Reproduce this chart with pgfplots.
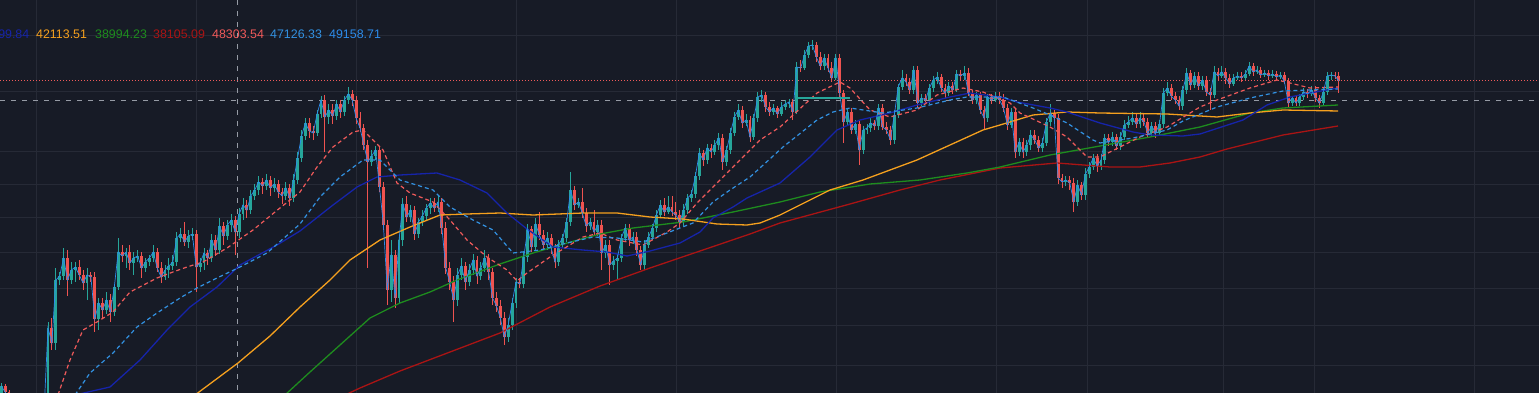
\documentclass[border=0pt]{standalone}
\usepackage{pgfplots}
\usepackage{pgfplotstable}
\usepackage{fontspec}
\pgfplotsset{compat=1.18}
\newfontfamily\lf{Liberation Sans}
\definecolor{bg}{RGB}{23,27,38}
\definecolor{gridc}{RGB}{38,42,54}
\definecolor{up}{RGB}{38,166,154}
\definecolor{dn}{RGB}{239,83,80}
\definecolor{mablue}{RGB}{22,36,170}
\definecolor{maorange}{RGB}{245,160,30}
\definecolor{magreen}{RGB}{30,140,30}
\definecolor{madred}{RGB}{170,20,20}
\definecolor{malred}{RGB}{240,90,90}
\definecolor{malblue}{RGB}{50,145,225}
\definecolor{closeblue}{RGB}{45,140,235}
\definecolor{cross}{RGB}{150,155,165}
\pgfplotstableread{
o h l c
396 383 398 386
386 384 394 392
392 390 403 400
400 397 408 404
404 401 414 410
410 398 412 402
402 400 411 408
408 405 418 415
415 412 424 420
420 408 422 412
412 409 421 418
418 406 420 410
410 322 412 328
328 318 350 343
343 268 350 280
280 272 285 276
276 248 280 258
258 250 296 280
280 262 284 270
270 262 282 267
267 260 280 275
275 270 290 283
283 268 300 275
275 272 282 277
277 272 332 319
319 298 330 303
303 298 318 310
310 292 314 300
300 294 322 312
312 284 316 287
287 238 290 252
252 245 262 256
256 248 268 252
252 245 270 263
263 252 275 258
258 250 262 256
256 252 278 268
268 258 272 262
262 255 266 258
258 245 262 252
252 248 272 268
268 262 283 277
277 265 280 270
270 258 278 266
266 255 270 262
262 232 266 238
238 228 242 234
234 222 246 242
242 230 248 236
236 228 240 234
234 230 292 267
267 258 272 263
263 248 270 253
253 250 265 258
258 234 262 240
240 235 256 250
250 218 254 226
226 222 245 236
236 220 240 225
225 214 232 220
220 216 255 232
232 208 238 214
214 198 220 205
205 200 218 210
210 190 214 196
196 184 200 190
190 176 195 182
182 178 194 186
186 174 190 180
180 176 196 188
188 178 192 184
184 180 198 192
192 188 204 196
196 182 200 188
188 184 206 198
198 174 202 180
180 152 184 158
158 130 162 136
136 118 140 123
123 118 138 131
131 126 140 133
133 110 136 114
114 96 118 100
100 95 152 117
117 104 124 110
110 104 124 116
116 100 120 104
104 100 118 112
112 96 116 100
100 87 104 94
94 90 106 100
100 96 124 118
118 112 132 128
128 124 150 145
145 140 268 162
162 150 166 156
156 146 160 150
150 146 192 187
187 182 230 225
225 220 305 290
290 240 302 255
255 250 308 298
298 236 304 240
240 198 246 204
204 196 222 217
217 205 222 210
210 206 240 234
234 218 238 222
222 210 226 216
216 204 220 208
208 198 214 203
203 198 212 208
208 195 212 202
202 198 234 228
228 222 274 268
268 262 290 282
282 276 322 300
300 268 306 275
275 258 280 266
266 262 290 282
282 264 286 270
270 254 275 260
260 256 284 276
276 262 280 268
268 250 272 258
258 254 280 272
272 268 305 298
298 292 312 306
306 300 325 318
318 312 345 337
337 318 342 325
325 298 330 303
303 278 308 282
282 278 288 284
284 252 288 257
257 224 262 229
229 226 252 247
247 218 250 224
224 212 240 235
235 230 250 245
245 232 250 238
238 234 254 248
248 244 268 262
262 240 266 244
244 234 248 238
238 218 242 222
222 172 226 190
190 186 210 205
205 198 208 202
202 188 218 213
213 208 232 226
226 218 230 222
222 210 236 232
232 220 236 225
225 220 270 253
253 240 258 245
245 240 285 265
265 256 270 261
261 254 280 258
258 234 262 238
238 224 242 228
228 224 246 240
240 232 244 237
237 232 256 250
250 246 270 265
265 240 270 245
245 232 248 237
237 224 240 228
228 210 232 215
215 200 218 205
205 198 216 212
212 196 214 207
207 196 216 212
212 202 220 215
215 210 228 222
222 204 226 210
210 194 214 198
198 190 202 194
194 172 198 176
176 148 180 153
153 150 166 160
160 144 164 148
148 144 158 152
152 140 155 145
145 133 150 138
138 134 170 162
162 146 166 150
150 128 154 133
133 112 136 117
117 104 120 110
110 106 128 123
123 114 126 120
120 116 142 137
137 114 140 118
118 92 122 97
97 90 102 95
95 92 112 107
107 102 116 112
112 104 115 108
108 106 118 114
114 102 116 107
107 100 110 104
104 99 108 102
102 99 120 112
112 62 114 67
67 60 72 68
68 50 70 55
55 42 58 46
46 40 50 45
45 42 62 57
57 52 70 66
66 54 70 58
58 54 72 68
68 62 82 78
78 54 80 58
58 54 98 93
93 90 143 122
122 108 126 112
112 108 134 130
130 120 134 124
124 120 165 150
150 126 154 130
130 124 134 128
128 118 132 123
123 120 130 126
126 104 130 108
108 104 130 127
127 122 134 130
130 126 145 140
140 110 144 115
115 84 118 87
87 70 90 78
78 74 86 82
82 78 94 90
90 66 94 70
70 66 108 103
103 94 106 98
98 94 104 100
100 84 104 88
88 76 92 80
80 72 84 77
77 74 92 88
88 84 98 93
93 82 96 86
86 82 94 90
90 70 92 74
74 70 80 76
76 66 80 73
73 68 96 93
93 90 104 100
100 92 104 95
95 92 114 110
110 106 130 118
118 94 122 97
97 94 104 100
100 92 102 96
96 92 104 100
100 94 112 108
108 104 130 125
125 108 128 112
112 108 158 152
152 138 156 142
142 138 158 152
152 140 156 145
145 130 150 135
135 130 144 140
140 136 152 148
148 138 152 143
143 118 146 122
122 104 126 113
113 110 122 118
118 114 184 178
178 174 188 182
182 176 186 180
180 176 190 183
183 178 212 202
202 180 206 185
185 182 200 195
195 168 200 174
174 162 178 167
167 154 170 158
158 154 172 166
166 154 170 160
160 134 164 138
138 134 146 142
142 132 146 137
137 134 150 146
146 132 150 137
137 120 140 125
125 116 128 122
122 112 125 118
118 114 128 124
124 112 128 118
118 114 126 122
122 118 138 133
133 122 136 126
126 122 138 133
133 120 136 124
124 88 128 93
93 82 96 88
88 84 100 96
96 92 104 100
100 96 110 106
106 86 110 90
90 68 94 73
73 70 90 85
85 72 88 76
76 72 90 86
86 76 90 80
80 76 96 92
92 88 110 95
95 66 98 72
72 68 80 76
76 66 78 72
72 68 84 78
78 74 88 84
84 74 86 78
78 72 80 76
76 72 82 78
78 70 80 74
74 62 76 66
66 63 76 72
72 66 74 70
70 67 78 75
75 70 77 73
73 70 80 76
76 70 78 74
74 71 80 77
77 72 79 75
75 72 84 81
81 78 108 103
103 96 106 98
98 95 106 103
103 94 106 97
97 88 100 92
92 89 98 94
94 86 96 90
90 86 102 98
98 95 108 103
103 88 106 92
92 72 95 76
76 72 80 75
75 72 79 76
76 72 93 81
}\candles
\begin{document}
\begin{tikzpicture}
\begin{axis}[at={(0,0)}, anchor=south west, scale only axis,
  width=1539pt, height=393pt,
  xmin=0, xmax=1539, ymin=0, ymax=393, y dir=reverse,
  axis background/.style={fill=bg},
  axis line style={draw=none},
  xtick={36,196,356,516,676,836,996,1087,1223,1314,1474},
  ytick={36,92,152,184,217,252,288,325,365},
  xticklabels={}, yticklabels={}, major tick length=0pt,
  grid=major, major grid style={draw=gridc, line width=1pt},
  clip=true]
% crosshair and price lines
\addplot[cross, line width=1pt, dash pattern=on 5pt off 6pt] coordinates {(237,0) (237,393)};
\addplot[cross, line width=1pt, dash pattern=on 5pt off 6pt] coordinates {(0,101) (1539,101)};
\addplot[malred, line width=1pt, dash pattern=on 1pt off 2pt] coordinates {(0,81) (1539,81)};
% wicks
\addplot[up, line width=0.9pt, quiver={u=0, v=\thisrow{l}-\thisrow{h}},
  restrict expr to domain={\thisrow{o}-\thisrow{c}}{0:1000}]
  table[x expr=1.2+3.9*\coordindex, y=h] {\candles};
\addplot[dn, line width=0.9pt, quiver={u=0, v=\thisrow{l}-\thisrow{h}},
  restrict expr to domain={\thisrow{o}-\thisrow{c}}{-1000:0}]
  table[x expr=1.2+3.9*\coordindex, y=h] {\candles};
% bodies
\addplot[up, line width=2.9pt, quiver={u=0, v=\thisrow{c}-\thisrow{o}},
  restrict expr to domain={\thisrow{o}-\thisrow{c}}{0:1000}]
  table[x expr=1.2+3.9*\coordindex, y=o] {\candles};
\addplot[dn, line width=2.9pt, quiver={u=0, v=\thisrow{c}-\thisrow{o}},
  restrict expr to domain={\thisrow{o}-\thisrow{c}}{-1000:0}]
  table[x expr=1.2+3.9*\coordindex, y=o] {\candles};
% moving averages
\addplot[madred, line width=1.3pt] coordinates {(345,395) (360,388) (400,371) (450,352) (500,333) (550,307) (600,286) (650,268) (700,251) (750,234) (780,223) (850,204) (900,190) (940,180) (1000,168) (1057,163) (1110,167) (1140,167) (1170,163) (1200,157) (1227,149) (1283,135) (1338,126)};
\addplot[magreen, line width=1.3pt] coordinates {(285,395) (310,372) (340,345) (370,318) (400,303) (430,292) (457,280) (500,264) (533,253) (567,243) (600,234) (633,228) (683,222) (733,212) (780,202) (820,192) (870,184) (920,180) (967,173) (1000,167) (1050,155) (1100,146) (1150,137) (1200,127) (1250,113) (1283,108) (1338,105)};
\addplot[maorange, line width=1.3pt] coordinates {(195,395) (238,363) (270,336) (300,307) (330,280) (350,260) (380,240) (410,227) (440,215) (467,214) (500,213) (533,215) (583,213) (617,213) (650,217) (683,219) (717,224) (747,225) (760,223) (780,215) (800,205) (830,190) (863,180) (917,160) (950,145) (983,130) (1000,125) (1033,115) (1067,112) (1100,113) (1167,114) (1217,117) (1250,113) (1283,110) (1338,111)};
\addplot[mablue, line width=1.3pt] coordinates {(75,395) (110,387) (140,360) (167,330) (190,307) (217,287) (240,265) (277,245) (300,231) (333,205) (357,187) (377,177) (400,175) (437,173) (460,180) (487,193) (507,213) (527,229) (553,247) (583,250) (607,252) (627,256) (650,251) (680,243) (700,232) (713,218) (733,207) (747,198) (780,183) (810,157) (837,130) (860,120) (890,113) (917,105) (950,97) (970,93) (1000,97) (1017,102) (1050,108) (1067,112) (1100,123) (1133,132) (1150,135) (1183,136) (1200,134) (1243,120) (1267,105) (1290,97) (1310,93) (1338,88)};
\addplot[malred, line width=1.2pt, dash pattern=on 4pt off 3pt] coordinates {(58,395) (70,360) (83,330) (97,322) (113,312) (130,292) (157,278) (173,272) (187,267) (203,262) (227,248) (253,230) (275,212) (300,192) (317,167) (333,147) (353,132) (363,130) (383,150) (397,183) (410,193) (433,202) (450,220) (467,240) (487,257) (507,270) (517,281) (527,273) (550,257) (583,237) (600,233) (617,240) (643,245) (667,232) (680,223) (697,203) (720,180) (740,160) (760,140) (780,127) (817,93) (840,82) (850,88) (870,110) (890,117) (917,110) (937,95) (963,88) (983,92) (1010,103) (1020,113) (1050,127) (1067,137) (1087,157) (1100,157) (1120,147) (1140,137) (1167,127) (1200,107) (1217,100) (1250,88) (1277,80) (1290,83) (1310,88) (1338,87)};
\addplot[malblue, line width=1.2pt, dash pattern=on 4pt off 3pt] coordinates {(75,395) (90,373) (113,353) (137,327) (157,313) (180,298) (197,288) (217,278) (240,267) (267,253) (300,224) (320,197) (340,177) (363,160) (380,160) (390,170) (400,180) (433,190) (450,207) (473,220) (493,230) (513,253) (540,250) (567,243) (593,237) (617,238) (643,242) (667,233) (693,223) (713,202) (730,190) (750,177) (783,147) (817,120) (833,112) (850,108) (883,113) (917,108) (950,100) (967,97) (1003,97) (1033,108) (1050,115) (1067,123) (1093,140) (1100,143) (1133,138) (1167,130) (1183,121) (1217,107) (1250,98) (1283,91) (1310,90) (1338,89)};
% close line
\addplot[closeblue, line width=0.7pt] table[x expr=1.2+3.9*\coordindex, y=c] {\candles};
% drawn horizontal segment
\addplot[up, line width=1.3pt] coordinates {(797,98) (850,98)};
% legend values
\node[anchor=east, inner sep=0pt, text=mablue, font=\lf\fontsize{12.4}{14}\selectfont] at (axis cs:29.5,34) {44399.84};
\node[anchor=west, inner sep=0pt, text=maorange, font=\lf\fontsize{12.4}{14}\selectfont] at (axis cs:36,34) {42113.51};
\node[anchor=west, inner sep=0pt, text=magreen, font=\lf\fontsize{12.4}{14}\selectfont] at (axis cs:95,34) {38994.23};
\node[anchor=west, inner sep=0pt, text=madred, font=\lf\fontsize{12.4}{14}\selectfont] at (axis cs:153,34) {38105.09};
\node[anchor=west, inner sep=0pt, text=malred, font=\lf\fontsize{12.4}{14}\selectfont] at (axis cs:212,34) {48303.54};
\node[anchor=west, inner sep=0pt, text=malblue, font=\lf\fontsize{12.4}{14}\selectfont] at (axis cs:270,34) {47126.33};
\node[anchor=west, inner sep=0pt, text=closeblue, font=\lf\fontsize{12.4}{14}\selectfont] at (axis cs:329,34) {49158.71};
\end{axis}
\pgfresetboundingbox
\path[use as bounding box] (0,0) rectangle (1539pt,393pt);
\end{tikzpicture}
\end{document}
